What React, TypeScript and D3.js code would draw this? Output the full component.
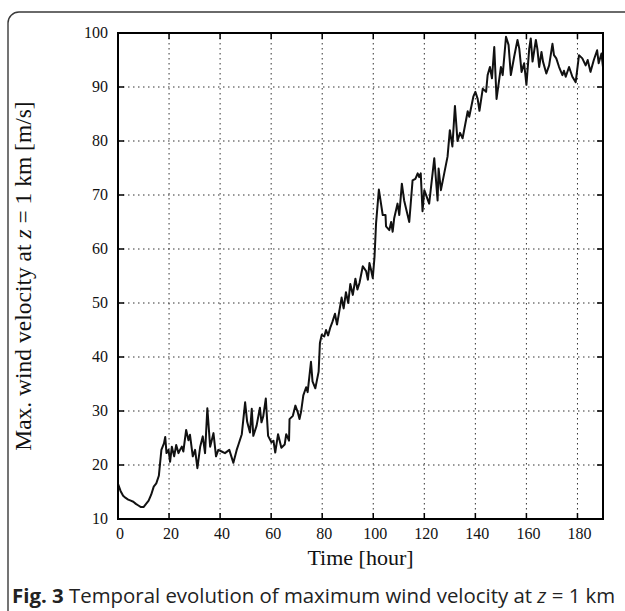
import React from "react";
import * as d3 from "d3";

const hours = [0,1,2,3,4,5,6,7,8,9,10,11,12,13,14,15,16,17,18,18.5,19,19.8,20.4,21.1,22,22.8,23.7,24.3,25,25.6,26.7,27.6,28.2,29.3,30.2,31.1,32.2,33.2,34.1,35,36.1,37.4,38.4,39.3,40.6,41.9,43.6,45.2,46.5,47.2,48.5,49.8,50.6,51.7,52.4,53,54.3,55.6,56.2,56.9,57.9,58.8,60.1,60.9,61.6,62.7,64,65.3,65.9,67,67.2,68.5,69.5,70.4,71.1,71.7,72.6,73.7,74.3,75.6,76.2,77.3,78.6,79.1,79.8,80.8,81.5,82.3,83.2,84,85,85.8,86.7,87.6,88.4,89.3,90.2,91,92,93,93.8,94.6,95.9,97.2,97.9,98.5,99.2,99.8,100.5,101.1,102.2,103.7,104.8,105,106.3,107,107.6,108.2,109.5,110.2,111.2,112.1,114.1,115.4,116.5,117.4,118,118.6,119.3,120,121.9,123.9,125.2,125.6,126.5,127.8,129.1,130,131,132,133,134,135,136,137,137.6,139.2,140,140.9,141.6,142.9,144.2,144.8,145.7,146.5,147.4,148.3,150,150.7,152,153,153.9,155.2,156.5,157.2,158.1,159.1,160,161.1,161.7,162.4,163.7,164.3,165,165.9,166.5,167.8,168.9,170.2,170.8,171.7,172.8,174.1,174.7,175.4,176.7,178,179.3,180.6,181.9,183.2,184,185.1,186.4,187.7,188.3,189.4,190];

const velocity = [16.5,15.2,14.3,13.9,13.6,13.4,13.2,12.8,12.5,12.2,12.2,12.8,13.4,14.5,16.0,16.6,18.0,22.8,24.0,25.2,22.2,22.8,20.6,23.4,21.6,23.7,22.2,22.8,23.4,22.5,26.5,24.6,25.6,21.6,22.8,19.4,23.4,25.3,22.2,30.5,23.4,25.9,21.6,22.8,22.5,22.2,22.8,20.4,22.8,23.8,25.7,31.6,28,26,30.4,25.4,27.3,30.6,27.9,29,32.3,25.4,24.2,24.5,22.3,25.7,23.2,23.8,25.7,24.5,28.5,29.1,31,29.8,28.5,29.8,32.9,34.4,33.5,39.1,35.5,34.2,37.3,42.6,44.1,43.8,45,44,45.5,46.5,48,46,48.5,51,49,52,50,53.5,51.5,54.5,52.5,53.7,56.8,55.9,54.3,57.4,56,54.6,58.6,64.8,71,66.3,66.3,64.2,63.5,65,63.2,65.7,68.4,66.3,72.1,69,65,72.7,73,74,73.3,74,67,70.9,68.4,76.8,69,74.9,70.9,74,77.1,82,79,86.5,80,81.5,80.5,83,85.5,84.5,88.2,89.1,87.8,85.6,89.7,89.1,92.2,93.7,91.6,97.4,87.8,93.7,92.2,99.3,97.8,92.2,95.6,98.7,97.1,92.8,94.4,90.4,97.1,99,94.7,98.7,97,93.7,96.5,94.7,92.5,94,98,95.9,95.3,93.7,92.2,93,91.9,93.7,91.9,90.9,95.9,95.3,94,95,92.8,95,96.8,94.4,96.2,93.7];

const xTicks = [0,20,40,60,80,100,120,140,160,180];
const yTicks = [10,20,30,40,50,60,70,80,90,100];

const W = 625, H = 611;
const left = 118, right = 603, top = 33, bottom = 519;

export default function App() {
  const x = d3.scaleLinear().domain([0, 190]).range([left, right]);
  const y = d3.scaleLinear().domain([10, 100]).range([bottom, top]);
  const pts: [number, number][] = hours.map((h, i) => [h, velocity[i]]);
  const line = d3.line<[number, number]>().x(d => x(d[0])).y(d => y(d[1]));
  const serif = "'Liberation Serif', 'Times New Roman', serif";
  const grid = "#333";
  return (
    <svg width={W} height={H} style={{ position: "absolute", left: 0, top: 0, background: "#fff" }}>
      <rect x={8} y={12} width={700} height={700} rx={11} fill="#fff" stroke="#3a3a3a" strokeWidth={1.4} />
      {xTicks.filter(t => t > 0).map(t => (
        <line key={"gx" + t} x1={x(t)} x2={x(t)} y1={top} y2={bottom} stroke={grid} strokeWidth={1} strokeDasharray="1.5,3.5" />
      ))}
      {yTicks.filter(t => t > 10 && t < 100).map(t => (
        <line key={"gy" + t} x1={left} x2={right} y1={y(t)} y2={y(t)} stroke={grid} strokeWidth={1} strokeDasharray="1.5,3.5" />
      ))}
      {xTicks.map(t => (
        <g key={"tx" + t}>
          <line x1={x(t)} x2={x(t)} y1={bottom} y2={bottom - 6} stroke="#000" strokeWidth={1.5} />
          <line x1={x(t)} x2={x(t)} y1={top} y2={top + 6} stroke="#000" strokeWidth={1.5} />
          <text x={x(t) + 2} y={539} textAnchor="middle" fontFamily={serif} fontSize={16} fill="#111">{t}</text>
        </g>
      ))}
      {yTicks.map(t => (
        <g key={"ty" + t}>
          <line x1={left} x2={left + 6} y1={y(t)} y2={y(t)} stroke="#000" strokeWidth={1.5} />
          <line x1={right} x2={right - 6} y1={y(t)} y2={y(t)} stroke="#000" strokeWidth={1.5} />
          <text x={108} y={y(t) + 5} textAnchor="end" fontFamily={serif} fontSize={16} fill="#111">{t}</text>
        </g>
      ))}
      <path d={line(pts) ?? ""} fill="none" stroke="#111" strokeWidth={2} strokeLinejoin="round" />
      <rect x={left} y={top} width={right - left} height={bottom - top} fill="none" stroke="#000" strokeWidth={2} />
      <text x={(left + right) / 2} y={565} textAnchor="middle" fontFamily={serif} fontSize={22} fill="#111">Time [hour]</text>
      <text transform={`translate(31, ${(top + bottom) / 2}) rotate(-90)`} textAnchor="middle" fontFamily={serif} fontSize={23.5} fill="#111">
        Max. wind velocity at <tspan fontStyle="italic">z</tspan> = 1 km [m/s]
      </text>
      <text x={12} y={603} fontFamily="'Open Sans', 'Noto Sans', sans-serif" fontSize={20.4} fill="#222">
        <tspan fontWeight="bold">Fig. 3</tspan> Temporal evolution of maximum wind velocity at <tspan fontStyle="italic">z</tspan> = 1 km
      </text>
    </svg>
  );
}
